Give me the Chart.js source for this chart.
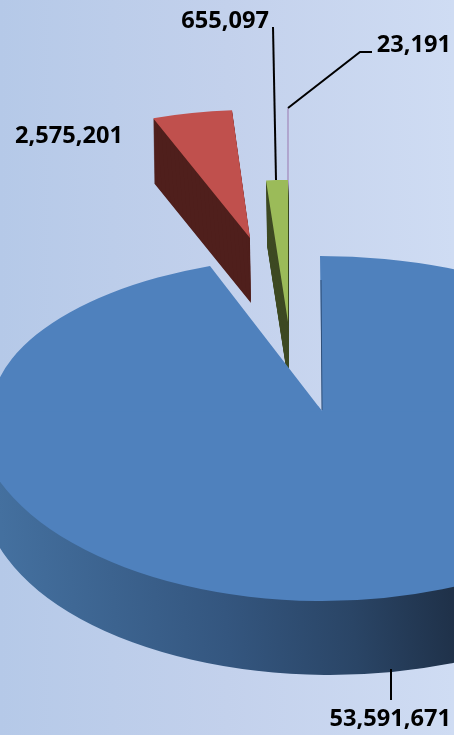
<!DOCTYPE html>
<html>
<head>
<meta charset="utf-8">
<style>
html, body { margin: 0; padding: 0; }
body { width: 454px; height: 735px; overflow: hidden; background: linear-gradient(90deg, #b5c9e8, #c3d1ec 50%, #cfdcf3); }
canvas { display: block; }
</style>
<script src="https://cdn.jsdelivr.net/npm/chart.js@4"></script>
</head>
<body>
<canvas id="myChart" width="454" height="735"></canvas>
<script>
const values = [53591671, 2575201, 655097, 23191];
const faceColors = ['#4f81bd', '#c0504d', '#9bbb59', '#b0a6cf'];
const sideColors = [null, '#4f1f1c', '#3f4b24', '#b0a6cf'];

// where each exploded wedge lands on the page: apex, radii on screen, skew, wall depth
const wedges = [
    null,
    { x: 250, y: 238, rx: 284, ry: 128, skew: -3.3, depth: 65, drift: 1 },
    { x: 288, y: 322, rx: 304, ry: 142, skew: -0.8, depth: 65, drift: 1 },
    { x: 289, y: 322, rx: 700, ry: 214, skew: 0, depth: 65, drift: 0 }
];
const bigTopLeft = { x: 322, y: 411, rx: 331, ry: 155, skew: -4.8 };
const bigTopRight = { x: 322, y: 411, rx: 331, ry: 155, skew: 2 };
const bigFront = { x: 322, y: 411, rx: 347, ry: 190, skew: 0 };
const bigBase = { x: 330, y: 491, rx: 347, ry: 184, skew: 0 };

const leaders = [
    [[273, 27], [276, 180]],
    [[288, 108], [360, 52], [372, 52]],
    [[391, 669], [391, 700]]
];
const labelSpots = [
    { x: 451, y: 726, align: 'right' },
    { x: 15, y: 143, align: 'left' },
    { x: 269, y: 28, align: 'right' },
    { x: 451, y: 52, align: 'right' }
];

function drawPlaced(ctx, arc, place, color) {
    const k = arc.outerRadius;
    const shaded = Object.create(arc);
    shaded.options = { ...arc.options, backgroundColor: color, borderWidth: 0 };
    ctx.save();
    ctx.translate(place.x, place.y);
    ctx.transform(place.rx / k, 0, place.skew / k, place.ry / k, 0, 0);
    ctx.translate(-arc.x, -arc.y);
    shaded.draw(ctx);
    ctx.restore();
}

function clipped(ctx, x0, y0, x1, y1, fn) {
    ctx.save();
    ctx.beginPath();
    ctx.rect(x0, y0, x1 - x0, y1 - y0);
    ctx.clip();
    fn();
    ctx.restore();
}

const pie3d = {
    id: 'pie3d',
    beforeDatasetsDraw(chart) {
        const ctx = chart.ctx;
        const arcs = chart.getDatasetMeta(0).data;
        const W = chart.width, H = chart.height;

        // small wedges go first, the big slice covers their lower tips
        for (let i = arcs.length - 1; i > 0; i--) {
            const w = wedges[i];
            for (let d = w.depth; d > 0; d--) {
                drawPlaced(ctx, arcs[i], { ...w, x: w.x + w.drift * d / w.depth, y: w.y + d }, sideColors[i]);
            }
            drawPlaced(ctx, arcs[i], w, faceColors[i]);
        }

        const big = arcs[0];
        const k = bigFront.rx / big.outerRadius;
        const wall = ctx.createLinearGradient(big.x - 326 / k, 0, big.x + 128 / k, 0);
        wall.addColorStop(0, '#44709f');
        wall.addColorStop(0.5, '#34567f');
        wall.addColorStop(0.78, '#2a4566');
        wall.addColorStop(1, '#1f3149');
        clipped(ctx, 0, bigFront.y, W, H, () => {
            for (let t = 1; t >= 0; t -= 0.0125) {
                const step = {
                    x: bigFront.x + (bigBase.x - bigFront.x) * t,
                    y: bigFront.y + (bigBase.y - bigFront.y) * t,
                    rx: bigFront.rx,
                    ry: bigFront.ry + (bigBase.ry - bigFront.ry) * t,
                    skew: 0
                };
                drawPlaced(ctx, big, step, wall);
            }
            drawPlaced(ctx, big, bigFront, faceColors[0]);
        });
        // the back half is foreshortened, so it has its own fit on each side of the gap
        clipped(ctx, 0, 0, bigTopLeft.x, bigTopLeft.y + 0.5, () => {
            drawPlaced(ctx, big, bigTopLeft, faceColors[0]);
        });
        clipped(ctx, 318, 0, W, bigTopRight.y + 0.5, () => {
            drawPlaced(ctx, big, bigTopRight, faceColors[0]);
        });

        // sliver of the cut face at the start of the big slice
        ctx.strokeStyle = '#2f4f78';
        ctx.lineWidth = 1;
        ctx.beginPath();
        ctx.moveTo(321, 280);
        ctx.lineTo(322, 410);
        ctx.stroke();
        return false;
    },
    afterDraw(chart) {
        const ctx = chart.ctx;
        ctx.save();
        ctx.strokeStyle = '#000';
        ctx.lineWidth = 2;
        leaders.forEach(pts => {
            ctx.beginPath();
            pts.forEach((p, i) => i ? ctx.lineTo(p[0], p[1]) : ctx.moveTo(p[0], p[1]));
            ctx.stroke();
        });
        ctx.fillStyle = '#000';
        ctx.font = 'bold 23.6px "Open Sans"';
        ctx.textBaseline = 'alphabetic';
        values.forEach((v, i) => {
            ctx.textAlign = labelSpots[i].align;
            ctx.fillText(v.toLocaleString('en-US'), labelSpots[i].x, labelSpots[i].y);
        });
        ctx.restore();
    }
};

new Chart(document.getElementById('myChart'), {
    type: 'pie',
    data: {
        datasets: [{
            data: values,
            backgroundColor: faceColors,
            borderWidth: 0
        }]
    },
    options: {
        responsive: false,
        animation: false,
        plugins: {
            legend: { display: false },
            tooltip: { enabled: false }
        }
    },
    plugins: [pie3d]
});
</script>
</body>
</html>
